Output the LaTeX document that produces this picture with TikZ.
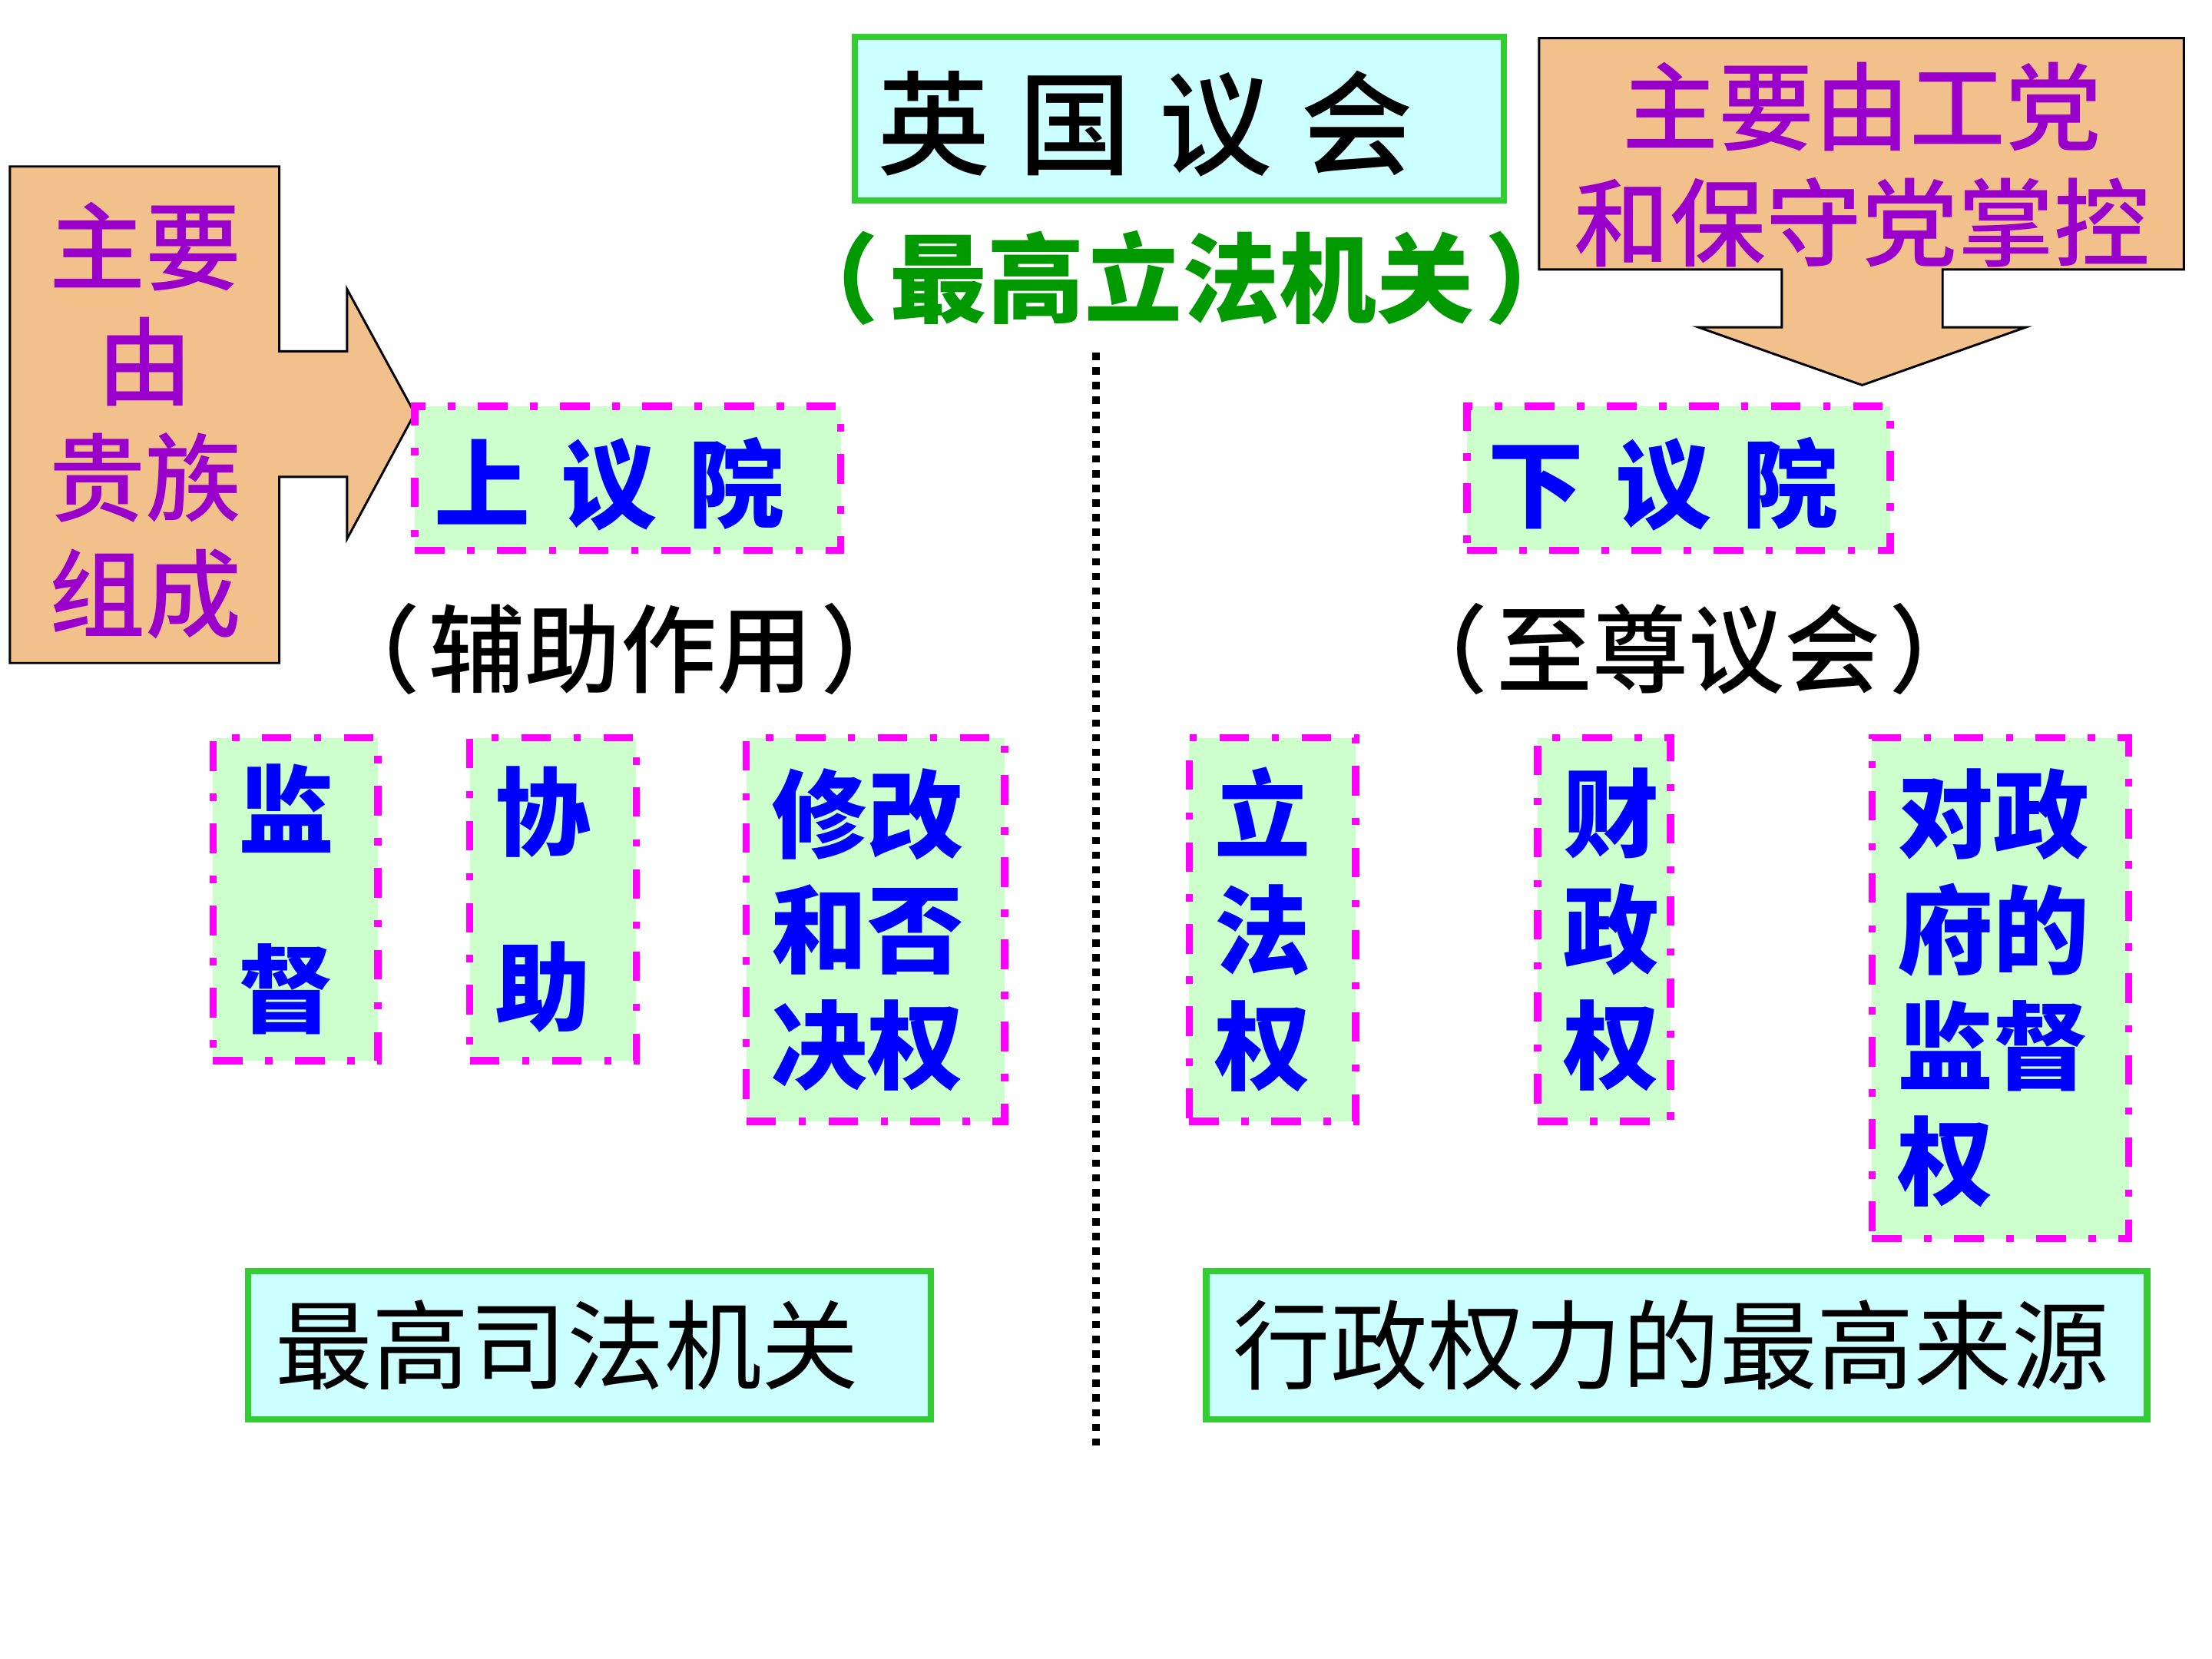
\documentclass[tikz,border=0pt]{standalone}
\usepackage{fontspec}
\setmainfont{Noto Sans CJK SC}
\newfontfamily\cjkmed{Noto Sans CJK SC}[UprightFont={* Medium}]
\definecolor{orangef}{RGB}{242,192,138}
\definecolor{purp}{RGB}{153,0,204}
\definecolor{gborder}{RGB}{51,204,51}
\definecolor{cyanf}{RGB}{204,255,255}
\definecolor{gtext}{RGB}{0,153,0}
\definecolor{lgreen}{RGB}{204,255,204}
\definecolor{mag}{RGB}{255,0,255}
\definecolor{bluet}{RGB}{0,0,255}
\newcommand{\fsz}[2]{\fontsize{#1pt}{#2pt}\selectfont}
\tikzset{
  callout/.style={draw=black, line width=0.8pt, fill=orangef},
  purpletext/.style={text=purp, font=\fsz{34}{41}\cjkmed, align=center, inner sep=0pt},
  titlebox/.style={draw=gborder, line width=2.3pt, fill=cyanf, inner sep=0pt},
  housebox/.style={draw=mag, line width=2.6pt, fill=lgreen, dash pattern=on 10.5pt off 8pt on 2.6pt off 8pt, inner sep=0pt},
  housetext/.style={text=bluet, font=\fsz{34}{41}\bfseries, inner sep=0pt},
  roletext/.style={text=black, font=\fsz{34}{40}\cjkmed, inner sep=0pt},
  powerbox/.style={housebox, text=bluet, font=\fsz{34}{41}\bfseries, align=left, inner xsep=9pt, inner ysep=0pt},
  bottombox/.style={titlebox, text=black, font=\fsz{34.5}{41}, align=left, inner xsep=9.5pt, minimum height=52.5pt},
  dotline/.style={draw=black, line width=2.6pt, dash pattern=on 2.6pt off 2.6pt}
}
\begin{document}
\begin{tikzpicture}[x=0.5pt,y=-0.5pt]
\useasboundingbox[fill=white] (0,0) rectangle (1568,1176);

% left callout (peers)
\draw[callout] (7,118) -- (198,118) -- (198,249) -- (246,249) -- (246,205) -- (294,293)
  -- (246,382) -- (246,338) -- (198,338) -- (198,470) -- (7,470) -- cycle;
\node[purpletext] (peers) at (103,298) {主要\\由\\贵族\\组成};

% right callout (parties)
\draw[callout] (1091,27) -- (1548,27) -- (1548,191) -- (1377,191) -- (1377,232) -- (1436,232)
  -- (1320,273) -- (1204,232) -- (1263,232) -- (1263,191) -- (1091,191) -- cycle;
\node[purpletext] (parties) at (1320,117) {主要由工党\\和保守党掌控};

% title
\node[titlebox, minimum width=230pt, minimum height=58pt] (title) at (836,84) {};
\node[text=black, font=\fsz{40}{48}\cjkmed, inner sep=0pt] (titletext) at (812,88)
  {英\hspace{10pt}国\hspace{10pt}议\hspace{10pt}会};
\node[text=gtext, font=\fsz{34.5}{40}\bfseries, inner sep=0pt] (legis) at (838,197) {（\hspace{4pt}最高立法机关\hspace{4pt}）};

% dotted divider
\coordinate (divtop) at (777,250);
\coordinate (divbot) at (777,1025);
\draw[dotline] (divtop) -- (divbot);

% houses
\node[housebox, minimum width=151pt, minimum height=51pt] (upper) at (445,339) {};
\node[housetext] (uppertext) at (432,343) {上\hspace{11pt}议\hspace{11pt}院};
\node[housebox, minimum width=150pt, minimum height=51pt] (lower) at (1190,339) {};
\node[housetext] (lowertext) at (1179,343) {下\hspace{11pt}议\hspace{11pt}院};

\node[roletext] (uprole) at (440,460) {（\hspace{3pt}辅助作用\hspace{3pt}）};
\node[roletext] (lowrole) at (1197,460) {（\hspace{3pt}至尊议会\hspace{3pt}）};

% powers
\node[powerbox, minimum width=58.5pt, minimum height=114.5pt, text width=40.5pt] (p1) at (209.5,637.5) {监\\[22.5pt]督};
\node[powerbox, minimum width=59pt, minimum height=114.5pt, text width=41pt] (p2) at (392,637.5) {协\\[21pt]助};
\node[powerbox, minimum width=91.5pt, minimum height=136pt, text width=73.5pt] (p3) at (620.5,659) {修改\\和否\\决权};
\node[powerbox, minimum width=59pt, minimum height=136pt, text width=41pt] (p4) at (902,659) {立\\法\\权};
\node[powerbox, minimum width=47pt, minimum height=136pt, text width=29pt] (p5) at (1137,659) {财\\政\\权};
\node[powerbox, minimum width=91pt, minimum height=177.5pt, text width=73pt] (p6) at (1418,700.5) {对政\\府的\\监督\\权};

% bottom boxes
\node[bottombox, minimum width=242pt, text width=223pt] (judicial) at (418,953.5) {最高司法机关};
\node[bottombox, minimum width=333.5pt, text width=314.5pt] (exec) at (1188.5,953.5) {行政权力的最高来源};
\end{tikzpicture}
\end{document}
